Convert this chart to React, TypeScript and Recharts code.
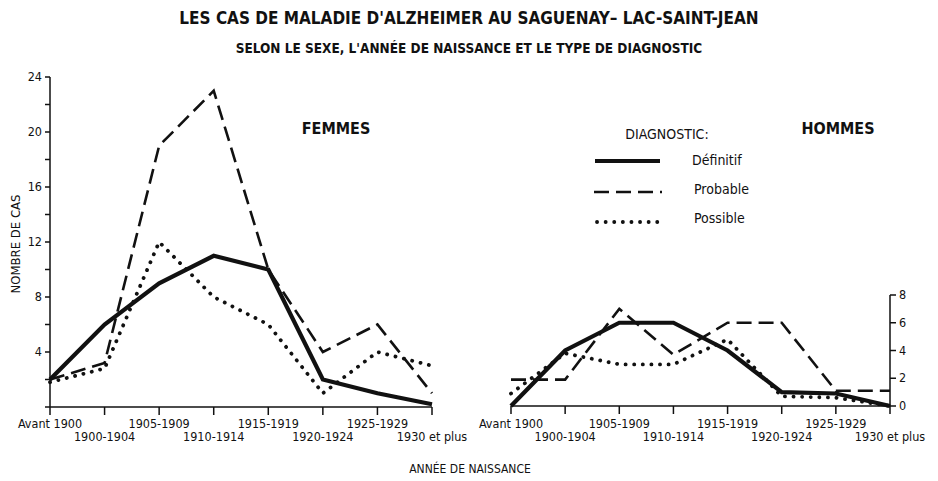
import React from "react";
import { LineChart, Line, XAxis, YAxis } from "recharts";

const categories = [
  "Avant 1900", "1900-1904", "1905-1909", "1910-1914",
  "1915-1919", "1920-1924", "1925-1929", "1930 et plus",
];

// femmes
const femmesDefinitif = [2, 6, 9, 11, 10, 2, 1, 0.2];
const femmesProbable = [2, 3.2, 19, 23, 10, 4, 6, 1];
const femmesPossible = [1.8, 2.8, 12, 8, 6, 1, 4, 3];

// hommes
const hommesDefinitif = [0, 4, 6, 6, 4, 1, 0.9, 0];
const hommesProbable = [1.9, 1.9, 7, 3.7, 6, 6, 1.1, 1.1];
const hommesPossible = [0.9, 3.8, 3, 3, 4.8, 0.7, 0.6, 0];

const femmesTicks = [0, 2, 4, 6, 8, 10, 12, 14, 16, 18, 20, 22, 24];
const hommesTicks = [0, 2, 4, 6, 8];

const FONT = "'Liberation Sans Narrow', 'DejaVu Sans Condensed', Arial, sans-serif";

const femmesData = categories.map((c, i) => ({
  cat: c,
  definitif: femmesDefinitif[i],
  probable: femmesProbable[i],
  possible: femmesPossible[i],
}));

const hommesData = categories.map((c, i) => ({
  cat: c,
  definitif: hommesDefinitif[i],
  probable: hommesProbable[i],
  possible: hommesPossible[i],
}));

// labels alternate between two rows
const XTick = (props: any) => {
  const { x, payload, index } = props;
  return (
    <text
      x={x}
      y={index % 2 === 0 ? 428 : 441}
      textAnchor="middle"
      fontSize={12.5}
      fontFamily={FONT}
      fill="#111"
    >
      {payload.value}
    </text>
  );
};

// tick every 2, label every 4 (no 0)
const LeftYTick = (props: any) => {
  const { x, y, payload } = props;
  const v = payload.value as number;
  if (v === 0 || v % 4 !== 0) return <g />;
  return (
    <text x={x} y={y} dy={4} textAnchor="end" fontSize={12.5} fontFamily={FONT} fill="#111">
      {v}
    </text>
  );
};

const RightYTick = (props: any) => {
  const { x, y, payload } = props;
  return (
    <text x={x + 1} y={y} dy={4} textAnchor="start" fontSize={12.5} fontFamily={FONT} fill="#111">
      {payload.value}
    </text>
  );
};

const axisStyle = { stroke: "#111", strokeWidth: 1.5 };

function lines() {
  return [
    <Line
      key="prob"
      dataKey="probable"
      stroke="#111"
      strokeWidth={2.6}
      strokeDasharray="15 7"
      dot={false}
      isAnimationActive={false}
      type="linear"
    />,
    <Line
      key="poss"
      dataKey="possible"
      stroke="#111"
      strokeWidth={3.8}
      strokeDasharray="0.1 8.5"
      strokeLinecap="round"
      dot={false}
      isAnimationActive={false}
      type="linear"
    />,
    <Line
      key="def"
      dataKey="definitif"
      stroke="#111"
      strokeWidth={4.2}
      dot={false}
      isAnimationActive={false}
      type="linear"
    />,
  ];
}

export default function App() {
  return (
    <div
      style={{
        position: "absolute",
        left: 0,
        top: 0,
        width: 938,
        height: 481,
        background: "#fff",
        fontFamily: FONT,
      }}
    >
      <div style={{ position: "absolute", left: 0, top: 0 }}>
        <LineChart
          width={470}
          height={481}
          data={femmesData}
          margin={{ top: 77, right: 38, bottom: 0, left: 0 }}
        >
          <XAxis
            dataKey="cat"
            height={74}
            axisLine={axisStyle}
            tickLine={axisStyle}
            tickSize={8}
            tick={XTick}
            interval={0}
          />
          <YAxis
            width={50}
            domain={[0, 24]}
            ticks={femmesTicks}
            axisLine={axisStyle}
            tickLine={axisStyle}
            tickSize={5}
            tickMargin={3}
            tick={LeftYTick}
            interval={0}
          />
          {lines()}
        </LineChart>
      </div>
      <div style={{ position: "absolute", left: 470, top: 0 }}>
        <LineChart
          width={468}
          height={481}
          data={hommesData}
          margin={{ top: 295, right: 0, bottom: 0, left: 41 }}
        >
          <XAxis
            dataKey="cat"
            height={75}
            axisLine={axisStyle}
            tickLine={axisStyle}
            tickSize={8}
            tick={XTick}
            interval={0}
          />
          <YAxis
            orientation="right"
            width={48}
            domain={[0, 8]}
            ticks={hommesTicks}
            axisLine={axisStyle}
            tickLine={axisStyle}
            tickSize={6}
            tickMargin={2}
            tick={RightYTick}
            interval={0}
          />
          {lines()}
        </LineChart>
      </div>
      <svg
        width={938}
        height={481}
        style={{ position: "absolute", left: 0, top: 0, pointerEvents: "none" }}
        fontFamily={FONT}
        fill="#111"
      >
        <text x={469} y={24} textAnchor="middle" fontSize={17} fontWeight="bold">
          LES CAS DE MALADIE D'ALZHEIMER AU SAGUENAY– LAC-SAINT-JEAN
        </text>
        <text x={469} y={53} textAnchor="middle" fontSize={13.5} fontWeight="bold">
          SELON LE SEXE, L'ANNÉE DE NAISSANCE  ET LE TYPE DE DIAGNOSTIC
        </text>
        <text x={336} y={134} textAnchor="middle" fontSize={16} fontWeight="bold">
          FEMMES
        </text>
        <text x={838} y={134} textAnchor="middle" fontSize={16} fontWeight="bold">
          HOMMES
        </text>
        <text x={667} y={139} textAnchor="middle" fontSize={14}>
          DIAGNOSTIC:
        </text>
        <line x1={595} y1={161} x2={660} y2={161} stroke="#111" strokeWidth={4.2} />
        <text x={692} y={165} fontSize={14}>Définitif</text>
        <line x1={594} y1={192} x2={662} y2={192} stroke="#111" strokeWidth={2.6} strokeDasharray="15 7" />
        <text x={694} y={194} fontSize={14}>Probable</text>
        <line x1={597} y1={222} x2={660} y2={222} stroke="#111" strokeWidth={3.8} strokeDasharray="0.1 8.5" strokeLinecap="round" />
        <text x={694} y={223} fontSize={14}>Possible</text>
        <text
          x={0}
          y={0}
          transform="translate(20,244) rotate(-90)"
          textAnchor="middle"
          fontSize={13}
        >
          NOMBRE DE CAS
        </text>
        <text x={470} y={473} textAnchor="middle" fontSize={12}>
          ANNÉE DE NAISSANCE
        </text>
      </svg>
    </div>
  );
}
